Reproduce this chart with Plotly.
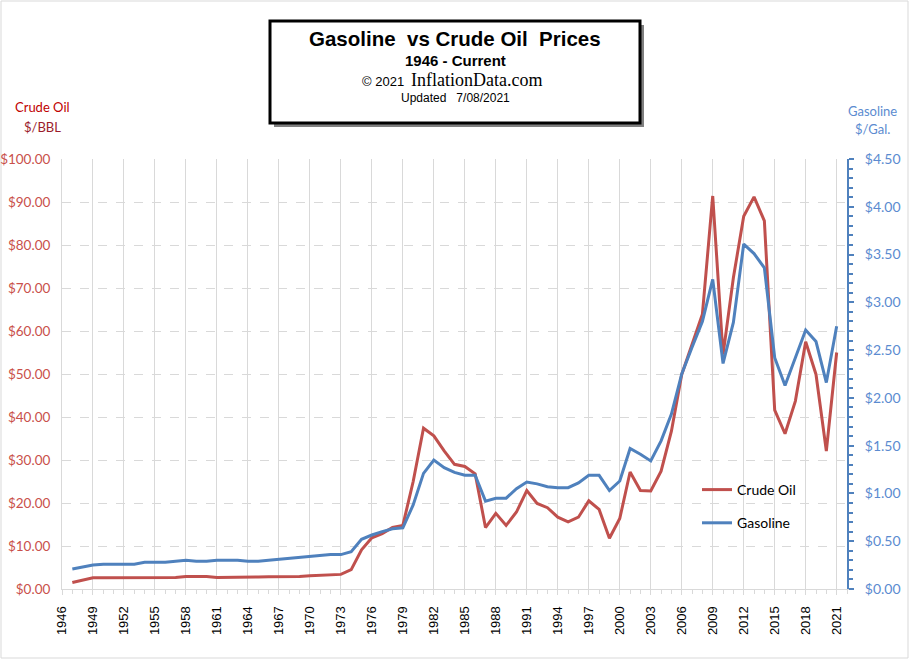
import plotly.graph_objects as go

years = list(range(1947, 2022))

crude_oil = [
    1.5, 2.0, 2.6, 2.6, 2.6, 2.6, 2.6, 2.6, 2.6, 2.6,          # 1947-1956
    2.7, 2.9, 2.9, 2.9, 2.65, 2.65, 2.65, 2.65, 2.8, 2.85,     # 1957-1966
    2.85, 2.85, 2.9, 3.1, 3.2, 3.35, 3.4, 4.5, 9.1, 11.9,      # 1967-1976
    12.9, 14.3, 14.8, 25.0, 37.4, 35.6, 32.1, 29.0, 28.5, 26.8,  # 1977-1986
    14.3, 17.6, 14.8, 17.9, 22.9, 19.9, 18.9, 16.7, 15.6, 16.7,  # 1987-1996
    20.5, 18.5, 11.8, 16.4, 27.2, 22.9, 22.8, 27.4, 36.7, 49.9,  # 1997-2006
    56.9, 63.9, 91.4, 54.5, 72.4, 86.7, 91.2, 85.6, 41.6, 36.1,  # 2007-2016
    43.7, 57.5, 49.9, 32.1, 55.0,                                # 2017-2021
]

gasoline = [
    0.21, 0.23, 0.25, 0.26, 0.26, 0.26, 0.26, 0.28, 0.28, 0.28,  # 1947-1956
    0.29, 0.30, 0.29, 0.29, 0.30, 0.30, 0.30, 0.29, 0.29, 0.30,  # 1957-1966
    0.31, 0.32, 0.33, 0.34, 0.35, 0.36, 0.36, 0.39, 0.52, 0.565,  # 1967-1976
    0.60, 0.63, 0.64, 0.88, 1.21, 1.35, 1.27, 1.22, 1.19, 1.19,  # 1977-1986
    0.92, 0.95, 0.95, 1.05, 1.12, 1.10, 1.07, 1.06, 1.06, 1.11,  # 1987-1996
    1.19, 1.19, 1.03, 1.13, 1.47, 1.41, 1.34, 1.55, 1.83, 2.25,  # 1997-2006
    2.53, 2.80, 3.24, 2.36, 2.79, 3.61, 3.51, 3.36, 2.42, 2.13,  # 2007-2016
    2.42, 2.71, 2.59, 2.16, 2.75,                                # 2017-2021
]

x_tick_years = list(range(1946, 2022, 3))
x_tick_labels = [str(y) for y in x_tick_years]

RED = "#C0504D"
BLUE = "#4F81BD"
GRID = "#D9D9D9"

# plot area in pixels: left 62, right 847, top 159, bottom 589
L, R, T, B = 62, 847, 159, 589
W, H = 910, 660


def px(xp):
    return (xp - L) / (R - L)


def py(yp):
    return (B - yp) / (B - T)


fig = go.Figure()
fig.add_trace(go.Scatter(
    x=years, y=crude_oil, name="Crude Oil", mode="lines",
    line=dict(color=RED, width=3), legendgroup="a", yaxis="y",
))
fig.add_trace(go.Scatter(
    x=years, y=gasoline, name="Gasoline", mode="lines",
    line=dict(color=BLUE, width=3), legendgroup="b", yaxis="y2",
))

shapes = [
    # outer border
    dict(type="rect", xref="paper", yref="paper",
         x0=px(1), x1=px(908), y0=py(658), y1=py(1),
         line=dict(color=GRID, width=1), fillcolor="rgba(0,0,0,0)", layer="below"),
    # title box shadow
    dict(type="rect", xref="paper", yref="paper",
         x0=px(274), x1=px(644), y0=py(127), y1=py(25),
         line=dict(width=0), fillcolor="#808080"),
    # title box
    dict(type="rect", xref="paper", yref="paper",
         x0=px(270), x1=px(640), y0=py(123), y1=py(21),
         line=dict(color="black", width=3), fillcolor="white"),
]

annotations = [
    dict(text="<b>Gasoline&nbsp; vs Crude Oil&nbsp; Prices</b>", x=px(455), y=py(39),
         font=dict(family="Liberation Sans", size=20.5, color="black")),
    dict(text="<b>1946 - Current</b>", x=px(455), y=py(60),
         font=dict(family="Liberation Sans", size=15, color="black")),
    dict(text="© 2021", x=px(406), y=py(81), xanchor="right",
         font=dict(family="Liberation Sans", size=13, color="black")),
    dict(text="InflationData.com", x=px(409), y=py(80), xanchor="left",
         font=dict(family="Liberation Serif", size=18, color="black")),
    dict(text="Updated&nbsp;&nbsp; 7/08/2021", x=px(455), y=py(98),
         font=dict(family="Liberation Sans", size=12, color="black")),
    dict(text="Crude Oil", x=px(42), y=py(107),
         font=dict(family="Lato", size=13, color="#C00000")),
    dict(text="$/BBL", x=px(42), y=py(127),
         font=dict(family="Lato", size=13, color="#9B1C2C")),
    dict(text="Gasoline", x=px(872), y=py(111),
         font=dict(family="Lato", size=13, color="#5B8BD0")),
    dict(text="$/Gal.", x=px(872), y=py(129),
         font=dict(family="Lato", size=13, color="#5B8BD0")),
]
for a in annotations:
    a.update(xref="paper", yref="paper", showarrow=False, yanchor="middle")
    a.setdefault("xanchor", "center")

fig.update_layout(
    width=W, height=H, autosize=False,
    margin=dict(l=L, r=W - R, t=T, b=H - B, pad=0, autoexpand=False),
    paper_bgcolor="white", plot_bgcolor="white",
    showlegend=True,
    legend=dict(x=px(697), y=py(474), xanchor="left", yanchor="top",
                font=dict(family="Lato", size=14, color="black"),
                tracegroupgap=12, bgcolor="rgba(0,0,0,0)"),
    xaxis=dict(
        range=[1946, 2022], tickmode="array", tickvals=x_tick_years,
        ticktext=x_tick_labels, tickangle=-90,
        tickfont=dict(family="Liberation Sans", size=13, color="black"),
        showgrid=True, gridcolor=GRID, gridwidth=1,
        showline=True, linecolor=GRID, linewidth=1,
        ticks="outside", ticklen=5, tickcolor=GRID,
        minor=dict(dtick=1, ticks="outside", ticklen=4, tickcolor=GRID, showgrid=False),
        zeroline=False, ticklabelstandoff=6, automargin=False,
    ),
    yaxis=dict(
        range=[0, 100], dtick=10, tickprefix="$", tickformat=".2f",
        tickfont=dict(family="Lato", size=13.5, color="#C9504B"),
        showgrid=True, gridcolor=GRID, griddash="dash", gridwidth=1,
        showline=True, linecolor=GRID, linewidth=1,
        ticks="", zeroline=False, ticklabelstandoff=8, automargin=False,
    ),
    yaxis2=dict(
        range=[0, 4.5], dtick=0.5, tickprefix="$", tickformat=".2f",
        overlaying="y", side="right", anchor="x",
        tickfont=dict(family="Lato", size=14, color="#5B8BD0"),
        showgrid=False, showline=True, linecolor=BLUE, linewidth=2,
        ticks="outside", ticklen=5, tickwidth=2, tickcolor=BLUE,
        minor=dict(dtick=0.1, ticks="outside", ticklen=4, tickwidth=1.5, tickcolor=BLUE),
        zeroline=False, ticklabelstandoff=8, automargin=False,
    ),
    shapes=shapes,
    annotations=annotations,
)

fig.write_html("out.html", config={"displayModeBar": False},
               post_script="document.body.style.margin='0';")
